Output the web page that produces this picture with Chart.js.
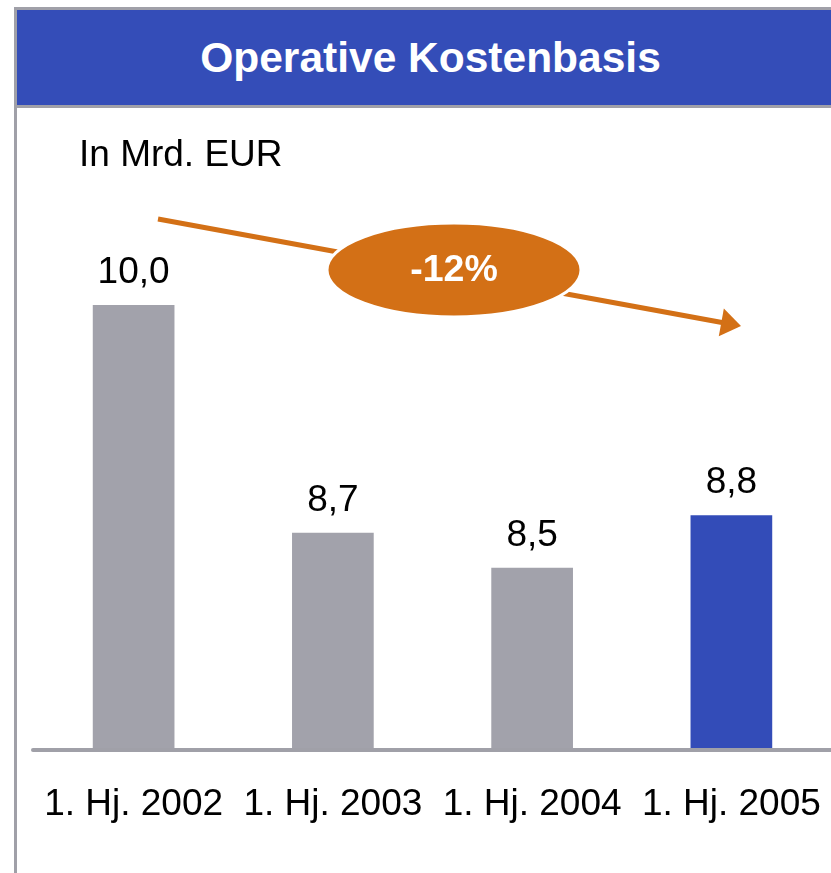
<!DOCTYPE html>
<html>
<head>
<meta charset="utf-8">
<script src="https://cdn.jsdelivr.net/npm/chart.js@4/dist/chart.umd.min.js"></script>
<style>
  body { margin: 0; background: #fff; font-family: "Liberation Sans", Arial, sans-serif; }
  #wrap { position: relative; width: 831px; height: 873px; overflow: hidden; }
  #chart { position: absolute; left: 0; top: 0; }
  .frame { position: absolute; left: 14px; top: 7px; width: 830px; height: 880px;
           border-left: 3px solid #a0a0a8; border-top: 3px solid #a0a0a8; }
  .title { position: absolute; left: 17px; top: 10px; width: 801px; height: 95px; padding-left: 13px;
           background: #344db8; border-bottom: 3px solid #a0a0a8; color: #fff;
           font-weight: bold; font-size: 42.5px; line-height: 95px; text-align: center; }
  .unit { position: absolute; left: 79px; top: 135px; font-size: 37px; line-height: 37px; color: #000; }
  .pct { position: absolute; left: 328px; top: 250px; width: 252px; text-align: center;
         font-weight: bold; font-size: 37.5px; line-height: 37.5px; color: #fff; }
</style>
</head>
<body>
<div id="wrap">
  <canvas id="chart" width="831" height="873"></canvas>
  <div class="frame"></div>
  <div class="title">Operative Kostenbasis</div>
  <div class="unit">In Mrd. EUR</div>
  <div class="pct">-12%</div>
</div>
<script>
const categories = ['1. Hj. 2002', '1. Hj. 2003', '1. Hj. 2004', '1. Hj. 2005'];
const costs = [10.0, 8.7, 8.5, 8.8];
const barColors = ['#a2a2ab', '#a2a2ab', '#a2a2ab', '#334cb8'];

const orange = '#d37016';
const fontFamily = '"Liberation Sans", Arial, sans-serif';

// baseline under the bars
const baselinePlugin = {
    id: 'baseline',
    beforeDatasetsDraw(chart) {
        const c = chart.ctx;
        const a = chart.chartArea;
        c.save();
        c.strokeStyle = '#a0a0a8';
        c.lineWidth = 4;
        c.lineCap = 'round';
        c.beginPath();
        c.moveTo(a.left - 1, a.bottom + 2);
        c.lineTo(a.right + 5, a.bottom + 2);
        c.stroke();
        c.restore();
    }
};

// value labels above bars, German decimal comma
const valueLabels = {
    id: 'valueLabels',
    afterDatasetsDraw(chart) {
        const c = chart.ctx;
        const meta = chart.getDatasetMeta(0);
        c.save();
        c.font = '37px ' + fontFamily;
        c.fillStyle = '#000';
        c.textAlign = 'center';
        c.textBaseline = 'alphabetic';
        meta.data.forEach((bar, i) => {
            c.fillText(costs[i].toFixed(1).replace('.', ','), bar.x, bar.y - 22);
        });
        c.restore();
    }
};

// trend arrow with the ellipse badge
const trendArrow = {
    id: 'trendArrow',
    afterDraw(chart) {
        const c = chart.ctx;
        const x0 = 158, y0 = 219, x1 = 741, y1 = 326;
        const dx = x1 - x0, dy = y1 - y0;
        const len = Math.hypot(dx, dy);
        const ux = dx / len, uy = dy / len;
        const headLen = 20, headW = 14;
        const bx = x1 - ux * headLen, by = y1 - uy * headLen;

        c.save();
        c.strokeStyle = orange;
        c.fillStyle = orange;
        c.lineWidth = 5;
        c.beginPath();
        c.moveTo(x0, y0);
        c.lineTo(bx + ux * 2, by + uy * 2);
        c.stroke();
        c.beginPath();
        c.moveTo(x1, y1);
        c.lineTo(bx - uy * headW, by + ux * headW);
        c.lineTo(bx + uy * headW, by - ux * headW);
        c.closePath();
        c.fill();

        c.beginPath();
        c.ellipse(454, 270, 127, 47, 0, 0, Math.PI * 2);
        c.fill();
        c.strokeStyle = '#fff';
        c.lineWidth = 3;
        c.stroke();
        c.restore();
    }
};

new Chart(document.getElementById('chart'), {
    type: 'bar',
    data: {
        labels: categories,
        datasets: [{
            data: costs,
            backgroundColor: barColors,
            borderWidth: 0,
            barPercentage: 0.41,
            categoryPercentage: 1.0
        }]
    },
    options: {
        responsive: false,
        animation: false,
        layout: { padding: { left: 34, right: 0, top: 200, bottom: 11 } },
        plugins: {
            legend: { display: false },
            tooltip: { enabled: false }
        },
        scales: {
            x: {
                grid: { display: false, drawTicks: false },
                border: { display: false },
                ticks: {
                    color: '#000',
                    padding: 10,
                    maxRotation: 0,
                    autoSkip: false,
                    font: { family: fontFamily, size: 37, lineHeight: 2.54 }
                }
            },
            y: {
                display: false,
                min: 7.47,
                max: 10.6
            }
        }
    },
    plugins: [baselinePlugin, valueLabels, trendArrow]
});
</script>
</body>
</html>
